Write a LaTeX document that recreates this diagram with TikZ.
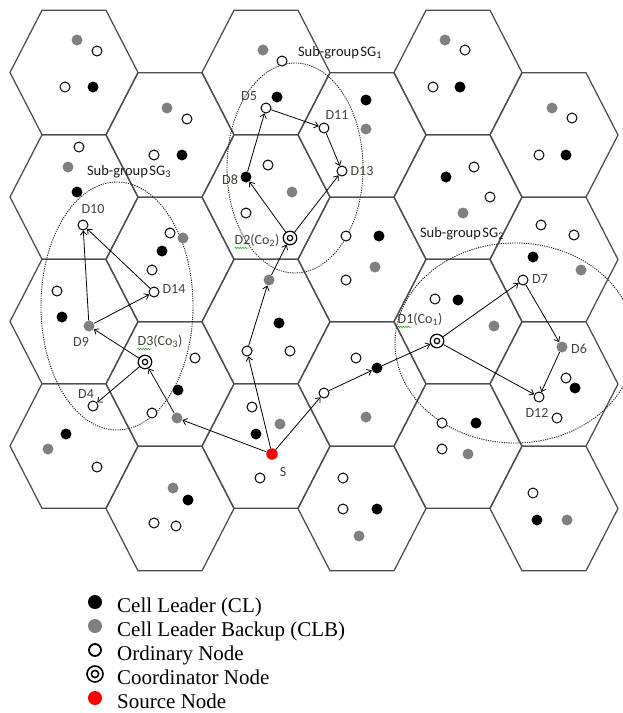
\documentclass[tikz,border=0pt]{standalone}
\usepackage{fontspec}
\setmainfont{Liberation Serif}
\newfontfamily\calfont{Carlito}
\usetikzlibrary{arrows.meta,decorations.pathmorphing}
\definecolor{hexc}{HTML}{4C4C4C}
\definecolor{clbc}{HTML}{808080}
\definecolor{labc}{HTML}{45413A}
\definecolor{squig}{HTML}{4CA64C}
\tikzset{
  hexline/.style={draw=hexc,line width=1.25pt,line join=miter},
  cl/.style={circle,fill=black,inner sep=0pt,minimum size=11pt},
  clb/.style={circle,fill=clbc,inner sep=0pt,minimum size=11pt},
  ord/.style={circle,draw=black,fill=white,line width=1pt,inner sep=0pt,minimum size=10pt},
  crd/.style={circle,draw=black,fill=white,line width=1.2pt,inner sep=0pt,minimum size=13.5pt,
    path picture={\draw[line width=1.2pt] (path picture bounding box.center) circle[radius=2.7pt];}},
  src/.style={circle,fill=red,inner sep=0pt,minimum size=11.5pt},
  lab/.style={font=\calfont\fontsize{14}{16}\selectfont,text=labc,inner sep=0pt},
  sg/.style={font=\calfont\fontsize{14.5}{16}\selectfont,text=black!90,inner sep=0pt},
  arr/.style={-{Straight Barb[length=4pt,width=6.5pt]},line width=0.8pt},
  grp/.style={draw=black!85,line width=0.9pt,dash pattern=on 1.2pt off 1.1pt},
  squiggle/.style={draw=squig,line width=0.6pt,decorate,decoration={snake,amplitude=0.8pt,segment length=2.5pt}},
  leg/.style={font=\fontsize{21}{24}\selectfont,anchor=base west,inner sep=0pt},
  legcl/.style={circle,fill=black,inner sep=0pt,minimum size=14pt},
  legclb/.style={circle,fill=clbc,inner sep=0pt,minimum size=14pt},
  legord/.style={circle,draw=black,fill=white,line width=1.8pt,inner sep=0pt,minimum size=12pt},
  legcrd/.style={circle,draw=black,fill=white,line width=1.6pt,inner sep=0pt,minimum size=16pt,
    path picture={\draw[line width=1.6pt] (path picture bounding box.center) circle[radius=3.6pt];}},
  legsrc/.style={circle,fill=red,inner sep=0pt,minimum size=14pt}
}
\begin{document}
\begin{tikzpicture}[x=1pt,y=-1pt]
\useasboundingbox[fill=white] (0,0) rectangle (623,713);
% hexagonal grid
\foreach \c in {0,...,5}{
  \foreach \r in {0,...,3}{
    \pgfmathsetmacro\hx{74+96*\c}
    \pgfmathsetmacro\hy{72.5+62.5*mod(\c,2)+124.5*\r}
    \draw[hexline] (\hx-64,\hy) -- (\hx-32,\hy-62.25) -- (\hx+32,\hy-62.25) -- (\hx+64,\hy)
      -- (\hx+32,\hy+62.25) -- (\hx-32,\hy+62.25) -- cycle;
  }
}
% sub-group enclosures
\draw[grp] (295,168) ellipse[x radius=68pt,y radius=105pt];
\draw[grp] (117,306) ellipse[x radius=76pt,y radius=124pt];
\draw[grp] (515,343) ellipse[x radius=120pt,y radius=100pt];
% column 1
\node[clb] (a1) at (77,40) {};  \node[ord] (a2) at (97,51) {};
\node[ord] (a3) at (65,87) {};  \node[cl] (a4) at (93,87) {};
\node[ord] (a5) at (79,147) {}; \node[clb] (a6) at (68,167) {};
\node[cl] (a7) at (77,192) {};  \node[ord] (D10) at (83,225) {};
\node[ord] (a8) at (57,291) {}; \node[cl] (a9) at (62,317) {};
\node[clb] (D9) at (89,326) {};
\node[ord] (D4) at (93,406) {}; \node[cl] (a10) at (66,434) {};
\node[clb] (a11) at (48,449) {}; \node[ord] (a12) at (97,467) {};
% column 2
\node[clb] (b1) at (167,108) {}; \node[ord] (b2) at (187,119) {};
\node[ord] (b3) at (154,155) {}; \node[cl] (b4) at (182,155) {};
\node[ord] (b5) at (170,233) {}; \node[clb] (b6) at (183,238) {};
\node[cl] (b7) at (162,251) {};  \node[ord] (b8) at (152,270) {};
\node[ord] (D14) at (154,292) {};
\node[crd] (D3) at (145,362) {}; \node[ord] (b9) at (195,358) {};
\node[cl] (b10) at (178,390) {}; \node[ord] (b11) at (152,413) {};
\node[clb] (p1) at (177,418) {};
\node[clb] (b12) at (173,488) {}; \node[cl] (b13) at (188,500) {};
\node[ord] (b14) at (154,523) {}; \node[ord] (b15) at (176,526) {};
% column 3
\node[clb] (c1) at (263,50) {}; \node[ord] (c2) at (282,61) {};
\node[cl] (c3) at (277,97) {};  \node[ord] (D5) at (266,108) {};
\node[ord] (c4) at (268,165) {}; \node[cl] (D8) at (246,177) {};
\node[clb] (c5) at (292,192) {}; \node[ord] (c6) at (246,213) {};
\node[crd] (D2) at (290,238) {};
\node[clb] (p3) at (269,280) {}; \node[cl] (c7) at (279,323) {};
\node[ord] (p2) at (247,351) {}; \node[ord] (c8) at (290,351) {};
\node[ord] (c9) at (252,407) {}; \node[clb] (c10) at (280,424) {};
\node[cl] (c11) at (256,434) {}; \node[src] (S) at (272,454) {};
\node[ord] (c12) at (260,478) {};
% column 4
\node[cl] (d1) at (366,100) {}; \node[ord] (D11) at (324,128) {};
\node[clb] (d2) at (366,129) {}; \node[ord] (D13) at (342,171) {};
\node[ord] (d3) at (346,236) {}; \node[cl] (d4) at (379,236) {};
\node[clb] (d5) at (375,267) {}; \node[ord] (d6) at (346,280) {};
\node[ord] (d7) at (356,358) {}; \node[cl] (p5) at (377,368) {};
\node[ord] (p4) at (324,393) {}; \node[clb] (d8) at (366,417) {};
\node[ord] (d9) at (343,478) {}; \node[ord] (d10) at (343,509) {};
\node[cl] (d11) at (377,509) {}; \node[clb] (d12) at (359,536) {};
% column 5
\node[clb] (e1) at (445,40) {}; \node[ord] (e2) at (465,50) {};
\node[ord] (e3) at (433,87) {}; \node[cl] (e4) at (460,87) {};
\node[ord] (e5) at (474,167) {}; \node[cl] (e6) at (446,177) {};
\node[ord] (e7) at (490,197) {}; \node[clb] (e8) at (463,213) {};
\node[ord] (e9) at (435,299) {}; \node[cl] (e10) at (458,300) {};
\node[clb] (e11) at (494,326) {}; \node[crd] (D1) at (437,341) {};
\node[ord] (e12) at (442,423) {}; \node[cl] (e13) at (476,423) {};
\node[ord] (e14) at (442,449) {}; \node[clb] (e15) at (468,454) {};
% column 6
\node[clb] (f1) at (552,108) {}; \node[ord] (f2) at (572,118) {};
\node[ord] (f3) at (539,155) {}; \node[cl] (f4) at (566,155) {};
\node[ord] (f5) at (541,225) {}; \node[ord] (f6) at (574,235) {};
\node[cl] (f7) at (533,257) {};  \node[clb] (f8) at (581,270) {};
\node[ord] (D7) at (523,280) {};
\node[clb] (D6) at (562,347) {}; \node[ord] (f9) at (566,378) {};
\node[cl] (f10) at (575,388) {}; \node[ord] (D12) at (539,397) {};
\node[ord] (f11) at (557,418) {};
\node[ord] (f12) at (533,493) {}; \node[cl] (f13) at (537,520) {};
\node[clb] (f14) at (567,520) {};
% labels
\node[sg] (lSG1) at (340,53) {Sub-group\hspace{1.5pt}SG\textsubscript{1}};
\node[sg] (lSG3) at (129,172) {Sub-group\hspace{1.5pt}SG\textsubscript{3}};
\node[sg] (lSG2) at (462,234) {Sub-group\hspace{1.5pt}SG\textsubscript{2}};
\node[lab] (lD5) at (249,96) {D5};
\node[lab] (lD11) at (337,115) {D11};
\node[lab] (lD13) at (362,171) {D13};
\node[lab] (lD8) at (230,180) {D8};
\node[lab] (lD2) at (257,240) {D2(Co\textsubscript{2})};
\node[lab] (lD10) at (93,209) {D10};
\node[lab] (lD14) at (174,289) {D14};
\node[lab] (lD9) at (81,342) {D9};
\node[lab] (lD3) at (160,341) {D3(Co\textsubscript{3})};
\node[lab] (lD4) at (86,394) {D4};
\node[lab] (lD1) at (420,319) {D1(Co\textsubscript{1})};
\node[lab] (lD7) at (540,279) {D7};
\node[lab] (lD6) at (579,349) {D6};
\node[lab] (lD12) at (537,413) {D12};
\node[lab] (lS) at (283,472) {S};
% spell-check squiggles
\draw[squiggle] ([yshift=-1.5pt]lD2.south west) -- ([xshift=14pt,yshift=-1.5pt]lD2.south west);
\draw[squiggle] ([yshift=-1.5pt]lD3.south west) -- ([xshift=14pt,yshift=-1.5pt]lD3.south west);
\draw[squiggle] ([yshift=-1.5pt]lD1.south west) -- ([xshift=14pt,yshift=-1.5pt]lD1.south west);
% arrows
\draw[arr] (S) -- (p1);
\draw[arr] (p1) -- (D3);
\draw[arr] (D3) -- (D9);
\draw[arr] (D3) -- (D4);
\draw[arr] (D9) -- (D10);
\draw[arr] (D9) -- (D14);
\draw[arr] (D14) -- (D10);
\draw[arr] (S) -- (p2);
\draw[arr] (p2) -- (p3);
\draw[arr] (p3) -- (D2);
\draw[arr] (D2) -- (D8);
\draw[arr] (D8) -- (D5);
\draw[arr] (D5) -- (D11);
\draw[arr] (D11) -- (D13);
\draw[arr] (D2) -- (D13);
\draw[arr] (S) -- (p4);
\draw[arr] (p4) -- (p5);
\draw[arr] (p5) -- (D1);
\draw[arr] (D1) -- (D7);
\draw[arr] (D1) -- (D12);
\draw[arr] (D7) -- (D6);
\draw[arr] (D6) -- (D12);
% legend
\node[legcl] (k1) at (95,602) {};
\node[legclb] (k2) at (95,626) {};
\node[legord] (k3) at (95,650) {};
\node[legcrd] (k4) at (95,674) {};
\node[legsrc] (k5) at (95,698) {};
\node[leg] (t1) at (117,612) {Cell Leader (CL)};
\node[leg] (t2) at (117,636) {Cell Leader Backup (CLB)};
\node[leg] (t3) at (117,660) {Ordinary Node};
\node[leg] (t4) at (117,684) {Coordinator Node};
\node[leg] (t5) at (117,708) {Source Node};
\end{tikzpicture}
\end{document}
